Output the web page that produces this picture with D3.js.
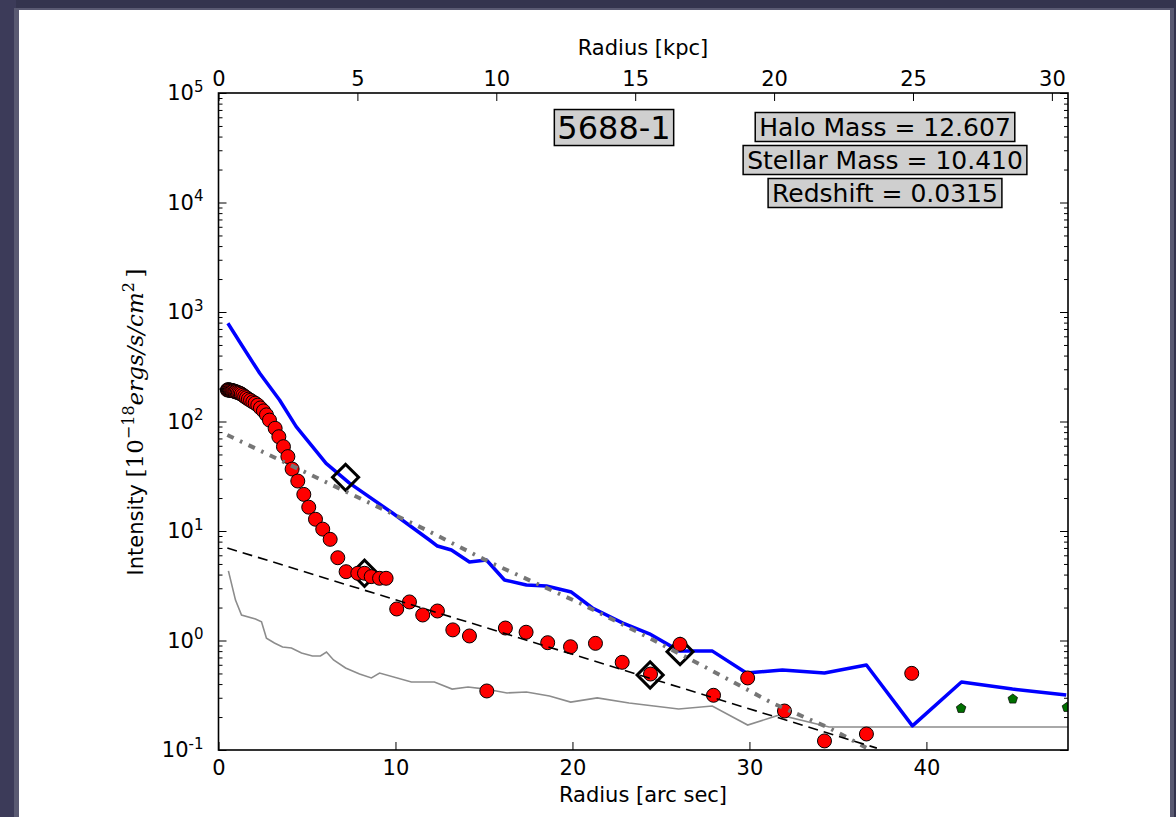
<!DOCTYPE html>
<html>
<head>
<meta charset="utf-8">
<script src="https://d3js.org/d3.v7.min.js"></script>
<style>
  body { margin: 0; background: #34344e; }
  svg { display: block; }
  text { font-family: "DejaVu Sans", sans-serif; fill: #000; }
</style>
</head>
<body>
<script>
(function() {

    const width = 1176;
    const height = 817;

    // radii in arc sec, intensities in 1e-18 ergs/s/cm^2
    const profileRadius = [0.50, 0.54, 0.57, 0.61, 0.66, 0.70, 0.75, 0.80, 0.86, 0.92, 0.98, 1.05, 1.13, 1.21,
        1.29, 1.38, 1.48, 1.58, 1.69, 1.81, 1.94, 2.07, 2.22, 2.37, 2.54, 2.71, 2.88,
        3.20, 3.41, 3.67, 3.92, 4.16, 4.48, 4.82, 5.10, 5.48, 5.89, 6.31, 6.74, 7.21, 7.87, 8.25, 8.63, 9.10, 9.47,
        10.07, 10.79, 11.54, 12.37, 13.24, 14.18, 15.16, 16.21, 17.38, 18.60, 19.89, 21.30, 22.81, 24.41, 26.08,
        27.97, 29.90, 31.98, 34.24, 36.61, 39.17];
    const profileIntensity = [194, 195, 194, 194, 193, 193, 192, 191, 190, 188, 187, 185, 183, 181,
        178, 174, 169, 165, 160, 156, 151, 147, 141, 133, 125, 115, 103,
        86.7, 72.6, 58.9, 47.8, 36.8, 28.6, 21.6, 16.5, 12.8, 10.4, 8.39, 5.70, 4.25, 4.11, 4.11, 3.83, 3.70, 3.70,
        1.94, 2.25, 1.71, 1.86, 1.25, 1.10, 0.346, 1.30, 1.19, 0.955, 0.877, 0.942, 0.632, 0.494, 0.923,
        0.316, 0.455, 0.227, 0.121, 0.140, 0.501];

    const modelRadius = [0.53, 1.37, 2.32, 3.45, 4.39, 6.08, 7.40, 9.83, 11.92, 12.37, 13.16, 14.18, 15.14, 16.16,
        17.40, 18.53, 19.94, 21.13, 22.82, 24.35, 26.05, 27.91, 29.83, 31.86, 34.24, 36.61, 39.21, 41.98, 44.86, 47.9];
    const modelIntensity = [789, 482, 277, 157, 89.7, 41.5, 27.4, 14.6, 8.28, 7.29, 6.70, 5.21, 5.43, 3.57,
        3.21, 3.15, 2.77, 1.98, 1.45, 1.15, 0.80, 0.80, 0.505, 0.538, 0.505, 0.597, 0.166, 0.418, 0.360, 0.318];

    const skyRadius = [0.56, 0.96, 1.30, 2.09, 2.43, 2.71, 3.16, 3.62, 4.12, 4.69, 5.31, 5.76, 6.10, 6.50, 7.18,
        7.97, 8.64, 9.10, 10.9, 12.2, 13.2, 14.1, 15.1, 16.3, 17.4, 18.7, 19.9, 21.4, 23.2, 26.0, 27.9, 29.9,
        31.7, 34.5, 48];
    const skyIntensity = [4.32, 2.34, 1.71, 1.57, 1.48, 1.05, 0.949, 0.873, 0.855, 0.769, 0.722, 0.722, 0.785,
        0.664, 0.561, 0.494, 0.455, 0.504, 0.418, 0.418, 0.360, 0.376, 0.360, 0.332, 0.339, 0.311, 0.274, 0.299,
        0.269, 0.237, 0.252, 0.169, 0.209, 0.162, 0.162];

    const innerFitRadius = [0.5, 11.75, 15.3, 20.4, 23.8, 27.6, 31.3, 34.5, 36.6];
    const innerFitIntensity = [75.3, 10.2, 5.21, 2.20, 1.17, 0.561, 0.268, 0.159, 0.105];

    const outerFitRadius = [0.5, 37.2];
    const outerFitIntensity = [7.0, 0.104];

    const markRadius = [7.18, 8.25, 24.39, 26.08];
    const markIntensity = [30.9, 4.11, 0.484, 0.791];

    const extraRadius = [41.96, 44.88, 47.94];
    const extraIntensity = [0.240, 0.292, 0.245];

    const xTicks = [0, 10, 20, 30, 40];
    const kpcTicks = [0, 5, 10, 15, 20, 25, 30];
    const yExponents = [-1, 0, 1, 2, 3, 4, 5];

    const infoLines = ["Halo Mass = 12.607", "Stellar Mass = 10.410", "Redshift = 0.0315"];
    const galaxyName = "5688-1";

    // plot box
    const left = 218.5, right = 1068, top = 93, bottom = 750;

    let svg = d3.select("body").append("svg")
        .attr("width", width)
        .attr("height", height);

    // backdrop + white page
    svg.append("rect").attr("x", 0).attr("y", 0).attr("width", width).attr("height", height).attr("fill", "#34344e");
    svg.append("rect").attr("x", 0).attr("y", 0).attr("width", 16).attr("height", height).attr("fill", "#3c3b59");
    svg.append("rect").attr("x", 14).attr("y", 8).attr("width", 1160).attr("height", height).attr("fill", "#5a5a72");
    svg.append("rect").attr("x", 19).attr("y", 10).attr("width", 1151).attr("height", height).attr("fill", "#fff");

    let xScale = d3.scaleLinear().domain([0, 48]).range([left, right]);
    let kpcScale = d3.scaleLinear().domain([0, 30.58]).range([left, right]);
    let yScale = d3.scaleLog().domain([0.1, 1e5]).range([bottom, top]);

    svg.append("clipPath").attr("id", "plotClip")
        .append("rect")
        .attr("x", left).attr("y", top)
        .attr("width", right - left).attr("height", bottom - top);

    let plot = svg.append("g").attr("clip-path", "url(#plotClip)");

    let line = d3.line()
        .x(d => xScale(d[0]))
        .y(d => yScale(d[1]));

    function pairs(xs, ys) { return xs.map((x, i) => [x, ys[i]]); }

    // sky / background level
    plot.append("path")
        .datum(pairs(skyRadius, skyIntensity))
        .attr("d", line)
        .attr("fill", "none")
        .attr("stroke", "#8c8c8c")
        .attr("stroke-width", 1.6);

    // model profile
    plot.append("path")
        .datum(pairs(modelRadius, modelIntensity))
        .attr("d", line)
        .attr("fill", "none")
        .attr("stroke", "#0000ff")
        .attr("stroke-width", 3.5)
        .attr("stroke-linejoin", "round");

    // open diamonds
    plot.selectAll(".mark")
        .data(pairs(markRadius, markIntensity))
        .enter()
        .append("path")
        .attr("class", "mark")
        .attr("d", d3.symbol().type(d3.symbolSquare).size(340))
        .attr("transform", d => "translate(" + xScale(d[0]) + "," + yScale(d[1]) + ")rotate(45)")
        .attr("fill", "none")
        .attr("stroke", "#000")
        .attr("stroke-width", 3);

    // measured profile
    plot.selectAll(".dot")
        .data(pairs(profileRadius, profileIntensity))
        .enter()
        .append("circle")
        .attr("class", "dot")
        .attr("cx", d => xScale(d[0]))
        .attr("cy", d => yScale(d[1]))
        .attr("r", 7)
        .attr("fill", "#ff0000")
        .attr("stroke", "#000")
        .attr("stroke-width", 1);

    // fits
    plot.append("path")
        .datum(pairs(innerFitRadius, innerFitIntensity))
        .attr("d", line)
        .attr("fill", "none")
        .attr("stroke", "#767676")
        .attr("stroke-width", 4)
        .attr("stroke-dasharray", "7,7,2.5,7");

    plot.append("path")
        .datum(pairs(outerFitRadius, outerFitIntensity))
        .attr("d", line)
        .attr("fill", "none")
        .attr("stroke", "#000")
        .attr("stroke-width", 1.6)
        .attr("stroke-dasharray", "10,6");

    // pentagon marker
    const pentagon = {
        draw: function(context, size) {
            let r = Math.sqrt(size / 2.38);
            for (let i = 0; i < 5; i++) {
                let a = -Math.PI / 2 + i * 2 * Math.PI / 5;
                if (i === 0) context.moveTo(r * Math.cos(a), r * Math.sin(a));
                else context.lineTo(r * Math.cos(a), r * Math.sin(a));
            }
            context.closePath();
        }
    };

    plot.selectAll(".extra")
        .data(pairs(extraRadius, extraIntensity))
        .enter()
        .append("path")
        .attr("class", "extra")
        .attr("d", d3.symbol().type(pentagon).size(60))
        .attr("transform", d => "translate(" + xScale(d[0]) + "," + yScale(d[1]) + ")")
        .attr("fill", "#007000")
        .attr("stroke", "#000")
        .attr("stroke-width", 0.7);

    // ---- axes ----
    let majorY = yExponents.map(e => Math.pow(10, e));
    let minorY = [];
    yExponents.slice(0, -1).forEach(e => {
        for (let m = 2; m < 10; m++) minorY.push(m * Math.pow(10, e));
    });

    function styleAxis(g) {
        g.select(".domain").remove();
        g.selectAll("line").attr("stroke", "#000").attr("stroke-width", 1);
        g.selectAll("text").style("font-size", "21px").style("font-family", "DejaVu Sans").attr("fill", "#000");
    }

    // left log axis with 10^n labels
    let leftAxis = svg.append("g")
        .attr("transform", "translate(" + left + ",0)")
        .call(d3.axisLeft(yScale).tickValues(majorY).tickSizeInner(-8).tickSizeOuter(0).tickPadding(15).tickFormat(d => d))
        .call(styleAxis);

    leftAxis.selectAll("text").each(function(d) {
        let t = d3.select(this);
        let e = Math.round(Math.log10(d));
        t.text(null);
        t.append("tspan").text("10");
        t.append("tspan").attr("dy", "-0.55em").style("font-size", "15px").text(e);
    });

    svg.append("g")
        .attr("transform", "translate(" + left + ",0)")
        .call(d3.axisLeft(yScale).tickValues(minorY).tickSizeInner(-4).tickSizeOuter(0).tickFormat(""))
        .call(styleAxis);

    svg.append("g")
        .attr("transform", "translate(" + right + ",0)")
        .call(d3.axisRight(yScale).tickValues(majorY).tickSizeInner(-8).tickSizeOuter(0).tickFormat(""))
        .call(styleAxis);

    svg.append("g")
        .attr("transform", "translate(" + right + ",0)")
        .call(d3.axisRight(yScale).tickValues(minorY).tickSizeInner(-4).tickSizeOuter(0).tickFormat(""))
        .call(styleAxis);

    svg.append("g")
        .attr("transform", "translate(0," + bottom + ")")
        .call(d3.axisBottom(xScale).tickValues(xTicks).tickSizeInner(-8).tickSizeOuter(0).tickPadding(10))
        .call(styleAxis);

    svg.append("g")
        .attr("transform", "translate(0," + top + ")")
        .call(d3.axisTop(kpcScale).tickValues(kpcTicks).tickSizeInner(-8).tickSizeOuter(0).tickPadding(7))
        .call(styleAxis);

    // frame
    svg.append("rect")
        .attr("x", left).attr("y", top)
        .attr("width", right - left).attr("height", bottom - top)
        .attr("fill", "none")
        .attr("stroke", "#000")
        .attr("stroke-width", 1.6);

    // axis titles
    svg.append("text")
        .attr("x", 643).attr("y", 55)
        .attr("text-anchor", "middle")
        .style("font-size", "21px")
        .text("Radius [kpc]");

    svg.append("text")
        .attr("x", 643).attr("y", 802)
        .attr("text-anchor", "middle")
        .style("font-size", "21px")
        .text("Radius [arc sec]");

    let yLabel = svg.append("text")
        .attr("transform", "translate(143,422)rotate(-90)")
        .attr("text-anchor", "middle")
        .style("font-size", "21px");
    yLabel.append("tspan").text("Intensity ");
    yLabel.append("tspan").style("font-family", "DejaVu Serif").style("font-size", "23px").text("[10");
    yLabel.append("tspan").attr("dy", "-9").style("font-size", "16px").style("font-family", "DejaVu Serif").text("\u221218");
    yLabel.append("tspan").attr("dy", "9").style("font-family", "DejaVu Serif").style("font-size", "23px").style("font-style", "italic").text("ergs/s/cm");
    yLabel.append("tspan").attr("dy", "-9").style("font-size", "16px").style("font-family", "DejaVu Serif").text("2");
    yLabel.append("tspan").attr("dy", "9").style("font-family", "DejaVu Serif").style("font-size", "23px").text("\u2009]");

    // labelled boxes
    function boxedText(x, y, str, size, pad) {
        let g = svg.append("g");
        let t = g.append("text")
            .attr("x", x).attr("y", y)
            .attr("text-anchor", "middle")
            .attr("dy", "0.36em")
            .style("font-size", size + "px")
            .text(str);
        let bb = t.node().getBBox();
        g.insert("rect", "text")
            .attr("x", bb.x - pad[0]).attr("y", bb.y + pad[1])
            .attr("width", bb.width + 2 * pad[0]).attr("height", bb.height - 2 * pad[1])
            .attr("fill", "#cfcfcf")
            .attr("stroke", "#000")
            .attr("stroke-width", 1.5);
    }

    boxedText(614, 127, galaxyName, 32, [3, 1]);
    infoLines.forEach((s, i) => boxedText(885, 126.5 + i * 33, s, 25, [4, 0]));

})();
</script>
</body>
</html>
